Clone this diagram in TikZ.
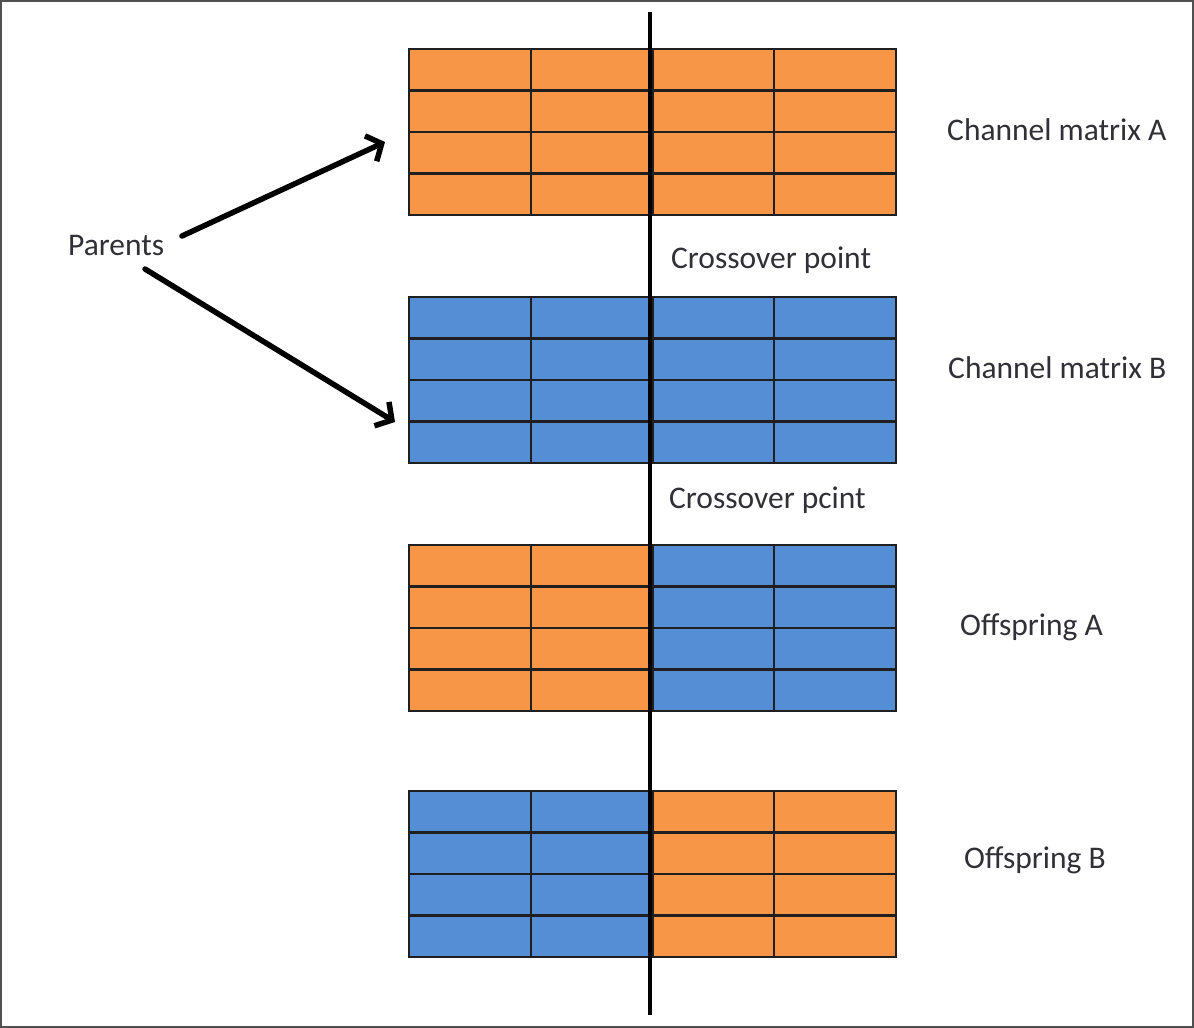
\documentclass[tikz,border=0pt]{standalone}
\usepackage{fontspec}
\setmainfont{Carlito}
\usetikzlibrary{arrows.meta,calc}
\definecolor{cellorange}{RGB}{247,150,70}
\definecolor{cellblue}{RGB}{85,142,213}
\definecolor{labelgray}{RGB}{48,48,54}
\definecolor{framegray}{RGB}{80,80,80}

% one chromosome: a 4x4 table whose left and right halves are filled separately
\newcommand\chromgrid[4]{%
  \node[gridbox, anchor=north west] (#1) at (409,#2) {};
  \fill[#3] (#1.north west) rectangle (#1.south);
  \fill[#4] (#1.north) rectangle (#1.south east);
  \foreach \r in {1,2,3}
    \draw[gridline] ($(#1.north west)!\r/4!(#1.south west)$) -- ($(#1.north east)!\r/4!(#1.south east)$);
  \foreach \c in {1,2,3}
    \draw[gridline] ($(#1.north west)!\c/4!(#1.north east)$) -- ($(#1.south west)!\c/4!(#1.south east)$);
  \draw[gridline] (#1.north west) rectangle (#1.south east);
}

\begin{document}
\begin{tikzpicture}[x=1pt,y=-1pt,
  gridbox/.style={minimum width=487pt, minimum height=166pt, inner sep=0pt, outer sep=0pt},
  gridline/.style={draw=black!88, line width=2.2pt},
  labeltext/.style={font=\fontsize{31.5}{36}\selectfont, text=labelgray, inner sep=0pt, anchor=base west},
  parentarrow/.style={line width=5.5pt, line cap=round,
    -{Straight Barb[length=12pt, width=28pt, line width=5.5pt]}},
  cutline/.style={line width=4.5pt, draw=black}]

\useasboundingbox (0,0) rectangle (1194,1028);
\fill[white] (0,0) rectangle (1194,1028);
\draw[framegray, line width=2pt] (1,1) rectangle (1193,1027);

% parents and offspring
\chromgrid{chA}{49}{cellorange}{cellorange}
\chromgrid{chB}{297}{cellblue}{cellblue}
\chromgrid{offA}{545}{cellorange}{cellblue}
\chromgrid{offB}{791}{cellblue}{cellorange}

% crossover cut
\coordinate (cutT) at (650,12);
\coordinate (cutB) at (650,1015);
\draw[cutline] (cutT) -- (cutB);

% labels
\node[labeltext] (parents) at (68,255) {Parents};
\node[labeltext] (labA) at (947,140) {Channel matrix A};
\node[labeltext] (cross1) at (671,268) {Crossover point};
\node[labeltext] (labB) at (948,378) {Channel matrix B};
\node[labeltext] (cross2) at (669,508) {Crossover pcint};
\node[labeltext] (labOA) at (960,635) {Offspring A};
\node[labeltext] (labOB) at (964,868) {Offspring B};

% arrows from the parents label to the two channel matrices
\coordinate (upS) at (182,236);
\coordinate (upE) at (385,142);
\coordinate (dnS) at (145,269);
\coordinate (dnE) at (395,422);
\draw[parentarrow] (upS) -- (upE);
\draw[parentarrow] (dnS) -- (dnE);
\end{tikzpicture}
\end{document}
